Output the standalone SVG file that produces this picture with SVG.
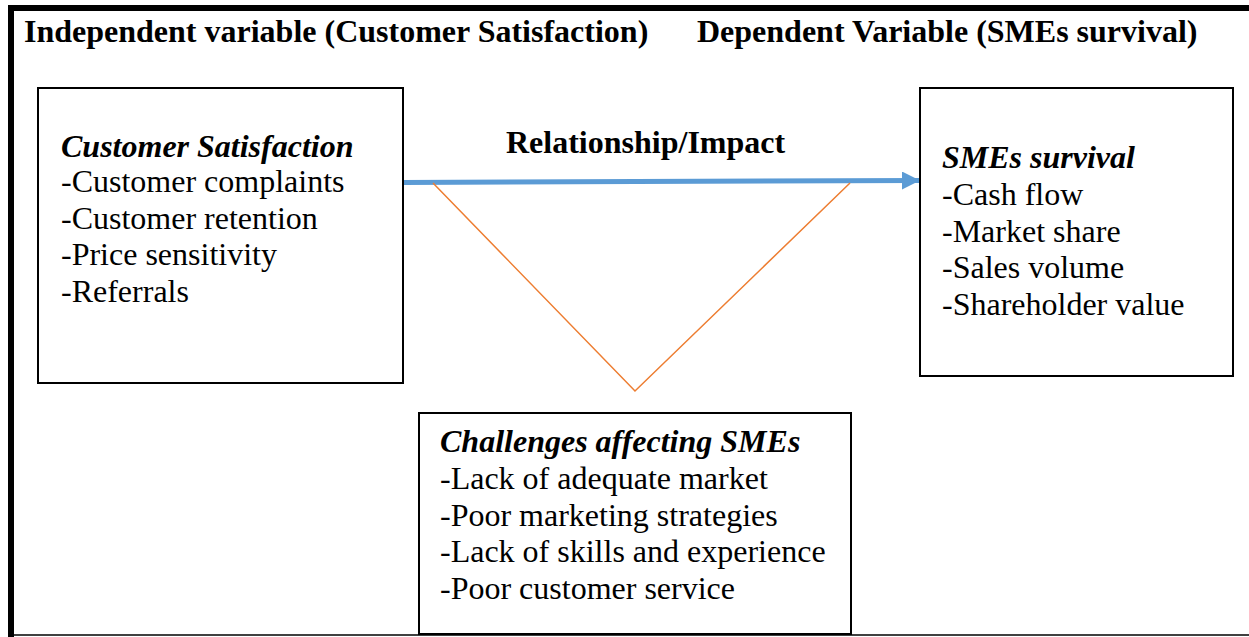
<svg xmlns="http://www.w3.org/2000/svg" width="1249" height="637" viewBox="0 0 1249 637">
  <style>
    text { font-family: "Liberation Serif", "Times New Roman", serif; font-size: 32px; fill: #000; }
    .title { font-weight: bold; }
    .head { font-weight: bold; font-style: italic; }
    .label { font-weight: bold; }
    .box { fill: #fff; stroke: #000; stroke-width: 2; }
    .impact { stroke: #5B9BD5; stroke-width: 5; fill: none; }
    .challenge { stroke: #ED7D31; stroke-width: 1.5; fill: none; }
  </style>
  <defs>
    <marker id="arrowHead" markerUnits="userSpaceOnUse" markerWidth="20" markerHeight="18" refX="18" refY="9" orient="auto">
      <path d="M0,0 L18,9 L0,18 Z" fill="#5B9BD5"/>
    </marker>
  </defs>

  <rect width="1249" height="637" fill="#fff"/>

  <!-- outer frame -->
  <g id="frame">
    <rect x="8" y="5" width="1241" height="6" fill="#000"/>
    <rect x="8" y="5" width="6" height="632" fill="#000"/>
    <line x1="14" y1="635" x2="1249" y2="635" stroke="#000" stroke-width="1.5"/>
  </g>

  <!-- column headings -->
  <g id="headings">
    <text class="title" x="24" y="42">Independent variable (Customer Satisfaction)</text>
    <text class="title" x="697" y="42">Dependent Variable (SMEs survival)</text>
  </g>

  <!-- connectors -->
  <g id="connectors">
    <line class="impact" x1="403" y1="182.5" x2="920" y2="180.5" marker-end="url(#arrowHead)"/>
    <polyline class="challenge" points="433,183 635,391 850,183"/>
    <text class="label" x="506" y="153">Relationship/Impact</text>
  </g>

  <!-- independent variable -->
  <g id="customer-satisfaction">
    <rect class="box" x="38" y="88" width="365" height="295"/>
    <text class="head" x="61" y="157">Customer Satisfaction</text>
    <text x="61" y="192">-Customer complaints</text>
    <text x="61" y="229">-Customer retention</text>
    <text x="61" y="265">-Price sensitivity</text>
    <text x="61" y="302">-Referrals</text>
  </g>

  <!-- dependent variable -->
  <g id="smes-survival">
    <rect class="box" x="920" y="88" width="313" height="288"/>
    <text class="head" x="942" y="168">SMEs survival</text>
    <text x="942" y="205">-Cash flow</text>
    <text x="942" y="242">-Market share</text>
    <text x="942" y="278">-Sales volume</text>
    <text x="942" y="315">-Shareholder value</text>
  </g>

  <!-- moderating challenges -->
  <g id="challenges">
    <rect class="box" x="419" y="413" width="432" height="221"/>
    <text class="head" x="440" y="452">Challenges affecting SMEs</text>
    <text x="440" y="489">-Lack of adequate market</text>
    <text x="440" y="526">-Poor marketing strategies</text>
    <text x="440" y="562">-Lack of skills and experience</text>
    <text x="440" y="599">-Poor customer service</text>
  </g>
</svg>
